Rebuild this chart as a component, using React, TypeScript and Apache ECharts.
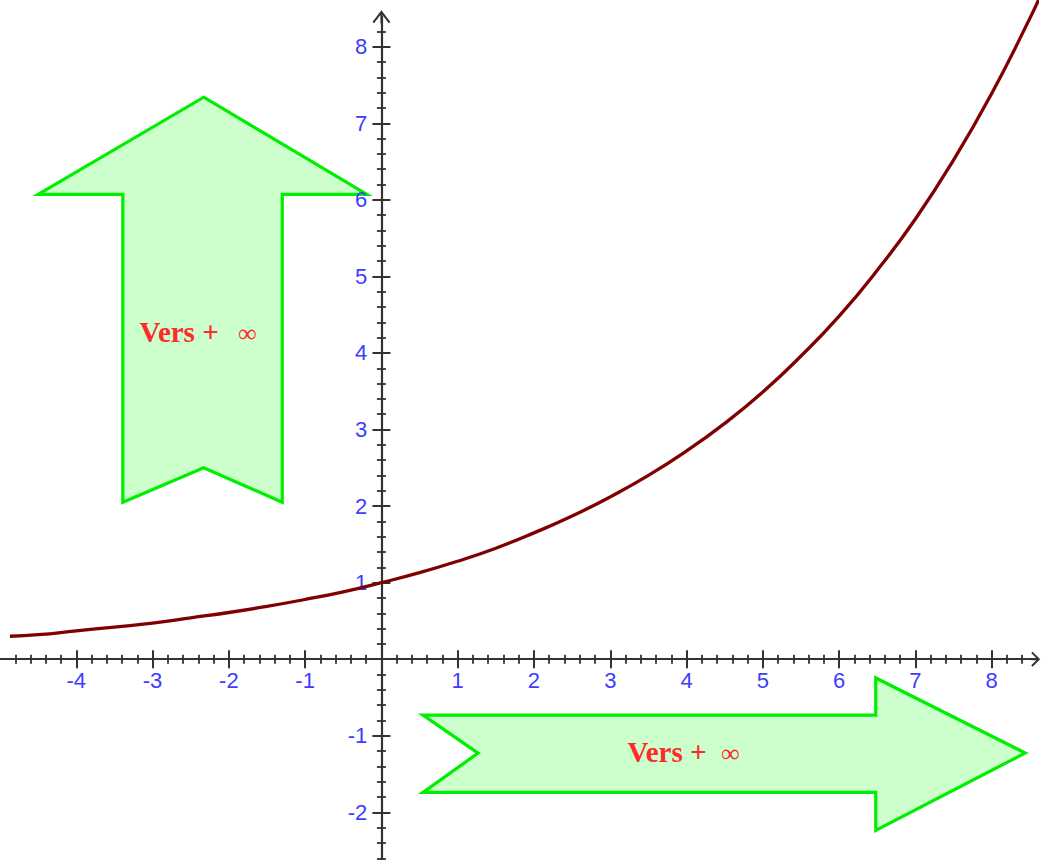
import React, { useEffect, useRef } from "react";
import * as echarts from "echarts";

// Curve (x, y)
const curveX = [-4.87, -4.5, -4, -3.5, -3, -2.5, -2, -1.5, -1, -0.5, 0, 0.5, 1, 1.5, 2, 2.5, 3, 3.5, 4, 4.5, 5, 5.5, 6, 6.5, 7, 7.5, 8, 8.5, 8.7];
const curveY = [0.3, 0.32, 0.37, 0.42, 0.47, 0.54, 0.61, 0.69, 0.78, 0.88, 1.0, 1.13, 1.28, 1.45, 1.65, 1.87, 2.12, 2.4, 2.72, 3.08, 3.49, 3.96, 4.48, 5.08, 5.75, 6.52, 7.39, 8.37, 8.8];

// Tick labels
const xTickValues = [-4, -3, -2, -1, 1, 2, 3, 4, 5, 6, 7, 8];
const yTickValues = [-2, -1, 1, 2, 3, 4, 5, 6, 7, 8];

// Annotation arrows (data coordinates)
const upArrow = [[-2.33, 7.34], [-0.19, 6.07], [-1.3, 6.07], [-1.3, 2.05], [-2.33, 2.5], [-3.39, 2.05], [-3.39, 6.07], [-4.5, 6.07]];
const rightArrow = [[0.545, -0.73], [6.48, -0.73], [6.48, -0.245], [8.44, -1.225], [6.48, -2.235], [6.48, -1.74], [0.545, -1.74], [1.266, -1.227]];
const arrowShapes = [upArrow, rightArrow];
const arrowLabel = "Vers +";
const arrowInfinity = "∞";
const labelPositions = [[-3.17, 4.274], [3.225, -1.212]];
const infinityPositions = [[-1.88, 4.25], [4.45, -1.235]];

const X_MIN = -5;
const X_MAX = 8.59;
const Y_MIN = -3;
const Y_MAX = 8.39;

const X_ARROW = "path://M7.5,0 L15,7.6 L13.6,9 L7.5,2.8 L1.4,9 L0,7.6 Z M6.5,1 L8.5,1 L8.5,9 L6.5,9 Z";
const Y_ARROW = "path://M9,0 L18,11.6 L16.4,13 L9,3.3 L1.6,13 L0,11.6 Z M8,1 L10,1 L10,13 L8,13 Z";

const AXIS_COLOR = "#333333";
const LABEL_COLOR = "#3d3dff";
const LABEL_FONT = '"Liberation Sans", Arial, sans-serif';
const LABEL_SIZE = 22;
const SERIF = '"Liberation Serif", "Times New Roman", serif';

// layout of the plot (pixels)
const G_LEFT = 0;
const G_RIGHT = 4.3;
const G_TOP = 16.85;
const G_BOTTOM = -28.88;
const ZERO_X_PX = 381.3;
const ZERO_Y_FROM_BOTTOM = 860 - 659.2;

function makeX(position: string, primary: boolean) {
  return {
    type: "value",
    gridIndex: 0,
    position,
    min: X_MIN,
    max: X_MAX,
    interval: 1,
    z: 3,
    axisLine: {
      show: primary,
      onZero: true,
      onZeroAxisIndex: 0,
      lineStyle: { color: AXIS_COLOR, width: 2.2 },
      symbol: primary ? ["none", X_ARROW] : "none",
      symbolSize: [15, 9],
      symbolOffset: [0, -1],
    },
    axisTick: { show: true, length: 9, customValues: xTickValues, lineStyle: { color: AXIS_COLOR, width: 2 } },
    minorTick: { show: true, splitNumber: 5, length: 4.5, lineStyle: { color: AXIS_COLOR, width: 1.8 } },
    axisLabel: { show: false },
    splitLine: { show: false },
    minorSplitLine: { show: false },
  };
}

function makeY(position: string, primary: boolean) {
  return {
    type: "value",
    gridIndex: 0,
    position,
    min: Y_MIN,
    max: Y_MAX,
    interval: 1,
    z: 3,
    axisLine: {
      show: primary,
      onZero: true,
      onZeroAxisIndex: 0,
      lineStyle: { color: AXIS_COLOR, width: 2.2 },
      symbol: primary ? ["none", Y_ARROW] : "none",
      symbolSize: [18, 13],
      symbolOffset: [0, 0],
    },
    axisTick: { show: true, length: 9, customValues: yTickValues, lineStyle: { color: AXIS_COLOR, width: 2 } },
    minorTick: { show: true, splitNumber: 5, length: 4.5, lineStyle: { color: AXIS_COLOR, width: 1.8 } },
    axisLabel: { show: false },
    splitLine: { show: false },
    minorSplitLine: { show: false },
  };
}

export default function App() {
  const ref = useRef<HTMLDivElement>(null);

  useEffect(() => {
    if (!ref.current) return;
    const chart = echarts.init(ref.current, null, { renderer: "svg" });
    const hiddenAxis = (gridIndex: number) => ({
      type: "value",
      gridIndex,
      show: false,
      min: 0,
      max: 1,
      axisLine: { show: false, onZero: false },
      axisTick: { show: false },
      axisLabel: { show: false },
      splitLine: { show: false },
    });
    const option: any = {
      animation: false,
      backgroundColor: "#ffffff",
      grid: [
        { left: G_LEFT, right: G_RIGHT, top: G_TOP, bottom: G_BOTTOM, containLabel: false, outerBoundsMode: "none" },
        // grid whose bottom edge is the x = 0 line: carries the x tick labels
        { left: G_LEFT, right: G_RIGHT, top: G_TOP, bottom: ZERO_Y_FROM_BOTTOM, containLabel: false, outerBoundsMode: "none" },
        // grid whose left edge is the y axis: carries the y tick labels
        { left: ZERO_X_PX, right: G_RIGHT, top: G_TOP, bottom: G_BOTTOM, containLabel: false, outerBoundsMode: "none" },
      ],
      xAxis: [
        makeX("bottom", true),
        makeX("top", false),
        {
          type: "value",
          gridIndex: 1,
          position: "bottom",
          min: X_MIN,
          max: X_MAX,
          interval: 1,
          z: 4,
          axisLine: { show: false, onZero: false },
          axisTick: { show: false },
          axisLabel: {
            show: true,
            customValues: xTickValues,
            color: LABEL_COLOR,
            fontSize: LABEL_SIZE,
            fontFamily: LABEL_FONT,
            margin: 10,
          },
          splitLine: { show: false },
        },
        hiddenAxis(2),
      ],
      yAxis: [
        makeY("left", true),
        makeY("right", false),
        hiddenAxis(1),
        {
          type: "value",
          gridIndex: 2,
          position: "left",
          min: Y_MIN,
          max: Y_MAX,
          interval: 1,
          z: 4,
          axisLine: { show: false, onZero: false },
          axisTick: { show: false },
          axisLabel: {
            show: true,
            customValues: yTickValues,
            color: LABEL_COLOR,
            fontSize: LABEL_SIZE,
            fontFamily: LABEL_FONT,
            margin: 14,
            padding: [6, 0, 0, 0],
          },
          splitLine: { show: false },
        },
      ],
      series: [
        {
          type: "custom",
          coordinateSystem: "cartesian2d",
          xAxisIndex: 0,
          yAxisIndex: 0,
          clip: false,
          silent: true,
          z: 1,
          data: labelPositions,
          renderItem: (params: any, api: any) => {
            const i = params.dataIndex;
            const pts = arrowShapes[i].map((p) => api.coord(p));
            const lp = api.coord(labelPositions[i]);
            const ip = api.coord(infinityPositions[i]);
            return {
              type: "group",
              children: [
                {
                  type: "polygon",
                  shape: { points: pts },
                  style: { fill: "#ccffcc", stroke: "#00ee00", lineWidth: 3.2, lineJoin: "miter" },
                },
                {
                  type: "text",
                  x: lp[0],
                  y: lp[1],
                  style: {
                    text: arrowLabel,
                    fill: "#ff2a2a",
                    fontSize: 29,
                    fontWeight: "bold",
                    fontFamily: SERIF,
                    align: "left",
                    verticalAlign: "middle",
                  },
                },
                {
                  type: "text",
                  x: ip[0],
                  y: ip[1],
                  style: {
                    text: arrowInfinity,
                    fill: "#ff2a2a",
                    fontSize: 26,
                    fontWeight: "normal",
                    fontFamily: SERIF,
                    align: "left",
                    verticalAlign: "middle",
                  },
                },
              ],
            };
          },
        },
        {
          type: "line",
          xAxisIndex: 0,
          yAxisIndex: 0,
          data: curveX.map((x, i) => [x, curveY[i]]),
          smooth: true,
          symbol: "none",
          clip: false,
          z: 5,
          lineStyle: { color: "#800000", width: 3.3 },
        },
      ],
    };
    chart.setOption(option);
    return () => chart.dispose();
  }, []);

  return (
    <div
      ref={ref}
      style={{ position: "fixed", left: 0, top: 0, width: 1041, height: 860, background: "#fff" }}
    />
  );
}
